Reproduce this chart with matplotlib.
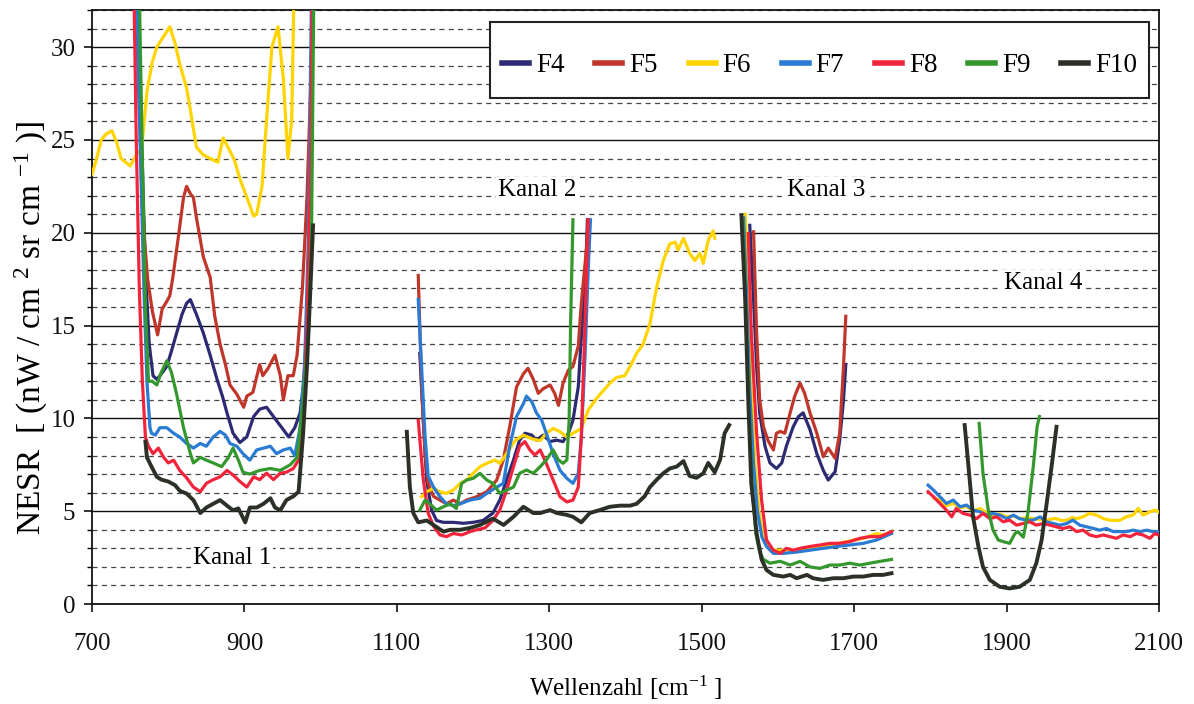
import matplotlib
matplotlib.use("Agg")
import matplotlib.pyplot as plt
from matplotlib.ticker import MultipleLocator
from matplotlib.patches import Rectangle

# ---------------- data ----------------
series_names = ["F4", "F5", "F6", "F7", "F8", "F9", "F10"]
series_colors = ["#2c2a72", "#c0362a", "#ffd400", "#2a7bd4", "#f2243c", "#34982e", "#2b3126"]

x_ticks = [700, 900, 1100, 1300, 1500, 1700, 1900, 2100]
y_ticks = [0, 5, 10, 15, 20, 25, 30]

kanal_labels = ["Kanal 1", "Kanal 2", "Kanal 3", "Kanal 4"]
kanal_x = [884, 1284, 1663, 1948]
kanal_y = [2.5, 22.3, 22.3, 17.3]

# F4
f4_k1_x = [760, 765, 770, 775, 780, 785, 791, 798, 804, 811, 818, 824, 829, 837, 846, 855, 864, 871, 877, 885, 894, 903, 912, 920, 929, 938, 949, 958, 966, 973, 978, 983, 987, 990]
f4_k1_y = [33, 25, 18, 14, 12.3, 12.1, 12.4, 12.8, 13.6, 14.6, 15.6, 16.2, 16.4, 15.6, 14.6, 13.4, 12.1, 11.2, 10.3, 9.2, 8.7, 9.0, 10.1, 10.5, 10.6, 10.1, 9.5, 9.0, 9.5, 10.3, 12, 16, 24, 33]
f4_k2_x = [1130, 1134.6, 1139, 1145.5, 1152, 1161, 1174, 1187, 1200, 1213, 1226, 1235, 1244, 1253, 1261, 1268, 1277, 1283, 1292, 1301, 1309.5, 1318, 1325, 1331, 1338, 1342, 1347, 1350]
f4_k2_y = [13.5, 9.9, 6.68, 5.06, 4.5, 4.4, 4.4, 4.35, 4.4, 4.5, 4.9, 5.6, 6.68, 7.76, 8.83, 9.2, 9.1, 8.83, 9.1, 8.75, 8.83, 8.75, 9.2, 9.9, 11.7, 14.4, 17.1, 20.7]
f4_k3_x = [1563, 1568, 1572, 1576, 1583, 1589.5, 1598, 1605, 1611, 1620, 1627, 1633, 1642, 1651, 1659.5, 1666, 1675, 1681, 1686, 1689]
f4_k3_y = [20.4, 16.4, 12.8, 10.3, 8.5, 7.6, 7.3, 7.6, 8.5, 9.55, 10.1, 10.3, 9.4, 8.1, 7.2, 6.68, 7.13, 8.83, 11.0, 12.9]

# F5
f5_k1_x = [757, 761, 765, 769, 773, 779, 786, 792, 798, 802, 806, 813, 820, 824, 829, 833, 837, 846, 855, 861, 868, 875, 881, 890, 899, 903, 911, 920, 924, 931, 940, 947, 951, 957, 964, 969, 976, 982, 987, 990]
f5_k1_y = [33, 28, 23, 19.5, 17.5, 15.8, 14.5, 15.9, 16.3, 16.6, 17.6, 19.7, 21.9, 22.5, 22.1, 21.9, 20.8, 18.7, 17.6, 15.5, 14.0, 12.9, 11.8, 11.3, 10.6, 11.2, 11.4, 12.9, 12.3, 12.7, 13.4, 12.3, 11.0, 12.3, 12.3, 13.4, 17, 21.9, 28, 33]
f5_k2_x = [1128, 1132.4, 1137, 1141, 1148, 1156.5, 1165, 1174, 1183, 1191.5, 1204.6, 1218, 1231, 1239.6, 1248, 1257, 1266, 1272, 1279, 1285.5, 1292, 1301, 1307, 1312, 1318, 1325, 1331, 1338, 1342, 1349, 1351]
f5_k2_y = [17.7, 11.7, 8.1, 6.5, 5.8, 5.6, 5.4, 5.6, 5.4, 5.6, 5.78, 6.05, 6.68, 7.76, 9.55, 11.7, 12.4, 12.7, 12.1, 11.35, 11.6, 11.8, 11.35, 10.7, 11.9, 12.6, 12.8, 13.9, 16.2, 19.25, 20.7]
f5_k3_x = [1568, 1572, 1576, 1581, 1587, 1594, 1598, 1603, 1609, 1616, 1622, 1629, 1635, 1642, 1651, 1659.5, 1666, 1675, 1681, 1686, 1689]
f5_k3_y = [20.05, 14.6, 11.0, 9.55, 8.8, 8.3, 9.2, 9.3, 9.2, 10.3, 11.2, 11.9, 11.35, 10.3, 9.2, 7.94, 8.4, 7.85, 9.2, 12.8, 15.5]

# F6
f6_k1_x = [700, 706, 712, 718, 726, 732, 738, 744, 750, 758, 765, 772, 779, 785, 791, 796, 802, 809, 815, 824, 829, 837, 846, 855, 865, 872, 881, 887, 894, 905, 912, 916, 923, 929, 936, 944, 951, 957, 962, 965]
f6_k1_y = [23.15, 24.0, 25.0, 25.3, 25.5, 24.9, 24.0, 23.8, 23.6, 24.2, 24.5, 27.6, 29.2, 30.0, 30.4, 30.7, 31.1, 30.2, 29.1, 27.8, 26.6, 24.6, 24.2, 24.0, 23.8, 25.1, 24.4, 23.9, 22.9, 21.7, 20.9, 21.0, 22.5, 26.1, 30.0, 31.1, 28.3, 24.0, 26.1, 33]
f6_k2_x = [1132.4, 1139, 1148, 1156.5, 1165, 1174, 1183, 1191.5, 1200, 1209, 1218, 1228.6, 1235, 1244, 1255, 1266, 1277, 1288, 1296, 1305, 1314, 1323, 1331, 1342, 1351, 1362, 1371, 1379.5, 1388, 1399, 1406, 1414.5, 1423, 1432, 1441, 1449.5, 1458, 1465, 1469, 1476, 1484, 1491, 1497.6, 1502, 1508.5, 1515, 1517]
f6_k2_y = [5.78, 6.05, 6.23, 6.05, 5.96, 6.14, 6.5, 6.68, 7.04, 7.4, 7.58, 7.76, 7.58, 8.1, 8.8, 9.1, 8.9, 8.8, 9.2, 9.46, 9.28, 9.0, 9.2, 9.46, 10.45, 11.08, 11.5, 11.9, 12.2, 12.3, 12.8, 13.5, 14.0, 15.1, 17.1, 18.5, 19.4, 19.5, 19.07, 19.7, 18.9, 18.5, 18.9, 18.35, 19.6, 20.1, 19.7]
f6_k3_x = [1557, 1561, 1565, 1570, 1575, 1581, 1589.5, 1607, 1624.5, 1646, 1668, 1690, 1712, 1729.5, 1738, 1749]
f6_k3_y = [21.0, 16.5, 11.5, 7.5, 5.0, 3.6, 2.9, 2.9, 2.9, 3.0, 3.18, 3.36, 3.54, 3.8, 3.7, 3.9]
f6_k4_x = [1805, 1812.5, 1821, 1830, 1839, 1847.5, 1856, 1865, 1874, 1882, 1891, 1900, 1909, 1917, 1926, 1935, 1944, 1952, 1961, 1965.5, 1972, 1979, 1986, 1992, 2000.5, 2009, 2018, 2027, 2035.5, 2042, 2049, 2057, 2066, 2072.6, 2079, 2088, 2094.5, 2099]
f6_k4_y = [5.7, 5.6, 5.3, 5.42, 5.2, 5.24, 5.0, 5.15, 4.9, 4.79, 4.85, 4.7, 4.75, 4.6, 4.65, 4.6, 4.55, 4.52, 4.6, 4.6, 4.5, 4.52, 4.65, 4.6, 4.7, 4.88, 4.79, 4.6, 4.52, 4.5, 4.52, 4.7, 4.79, 5.15, 4.79, 4.97, 5.06, 4.97]

# F7
f7_k1_x = [758, 763, 768, 772, 776, 778, 783, 789, 798, 807, 815, 824, 833, 842, 850, 859, 868, 875, 881, 890, 898, 907, 916, 925, 934, 942, 951, 960, 966, 973, 979, 984, 988]
f7_k1_y = [33, 25, 17, 12, 9.5, 9.2, 9.1, 9.5, 9.5, 9.2, 9.0, 8.65, 8.4, 8.65, 8.5, 9.0, 9.3, 9.1, 8.65, 8.5, 8.1, 7.75, 8.3, 8.4, 8.5, 8.1, 8.3, 8.4, 8.0, 9.5, 13, 20, 33]
f7_k2_x = [1128, 1132, 1137, 1141, 1148, 1156.5, 1165, 1174, 1183, 1196, 1209, 1218, 1231, 1239.6, 1248, 1257, 1266, 1270, 1277, 1283, 1290, 1296, 1305, 1314, 1323, 1331, 1338, 1342, 1347, 1351, 1354]
f7_k2_y = [16.4, 13.1, 9.0, 6.9, 6.3, 5.78, 5.4, 5.3, 5.4, 5.6, 5.7, 5.96, 6.3, 6.5, 8.5, 10.1, 10.8, 11.2, 10.9, 10.3, 9.9, 9.2, 8.1, 7.2, 6.77, 6.5, 7.04, 9.0, 13.5, 18.0, 20.7]
f7_k3_x = [1555, 1559, 1563, 1568, 1573, 1579, 1585, 1594, 1607, 1624.5, 1642, 1659, 1677, 1694, 1712, 1729.5, 1749]
f7_k3_y = [20.8, 16.5, 11.5, 7.5, 5.0, 3.6, 3.1, 2.73, 2.73, 2.8, 2.9, 3.0, 3.1, 3.18, 3.27, 3.45, 3.8]
f7_k4_x = [1797, 1804, 1812.5, 1821, 1830, 1839, 1847.5, 1856, 1865, 1874, 1882, 1891, 1900, 1909, 1917, 1926, 1935, 1944, 1952, 1961, 1970, 1979, 1987, 1996, 2005, 2014, 2022, 2031, 2040, 2049, 2057, 2066, 2075, 2084, 2092, 2099]
f7_k4_y = [6.4, 6.14, 5.78, 5.42, 5.6, 5.24, 5.33, 5.06, 4.97, 4.79, 4.88, 4.79, 4.6, 4.79, 4.6, 4.52, 4.52, 4.7, 4.43, 4.34, 4.25, 4.34, 4.52, 4.25, 4.16, 4.07, 3.98, 4.07, 3.9, 3.9, 3.9, 3.98, 3.9, 3.98, 3.9, 3.9]

# F8
f8_k1_x = [755, 758, 762, 766, 770, 774, 780, 787, 794, 800, 807, 815, 824, 833, 842, 850, 859, 868, 877, 885, 894, 903, 912, 920, 929, 938, 947, 955, 964, 971, 977, 982, 986, 989]
f8_k1_y = [33, 25, 17, 12, 9.0, 8.5, 8.1, 8.4, 7.9, 7.6, 7.75, 7.2, 6.8, 6.3, 6.05, 6.5, 6.7, 6.85, 7.2, 6.95, 6.6, 6.3, 6.85, 6.7, 7.05, 6.7, 7.05, 7.1, 7.3, 7.75, 10, 15, 22, 33]
f8_k2_x = [1128, 1134.6, 1141, 1148, 1156.5, 1165, 1174, 1185, 1196, 1204.6, 1215.5, 1226, 1235, 1244, 1253, 1261, 1268, 1274.5, 1281, 1288, 1296, 1305, 1314, 1323, 1331, 1338, 1342, 1347, 1351]
f8_k2_y = [9.9, 6.7, 4.9, 4.2, 3.72, 3.63, 3.8, 3.72, 3.9, 4.0, 4.1, 4.5, 5.06, 6.14, 7.4, 8.5, 8.75, 8.3, 8.03, 8.3, 7.58, 6.68, 5.78, 5.5, 5.6, 6.3, 9.0, 15.3, 20.7]
f8_k3_x = [1561, 1565, 1572, 1578.5, 1585, 1594, 1603, 1611, 1620, 1629, 1642, 1655, 1668, 1681, 1694, 1707.5, 1720.7, 1734, 1749]
f8_k3_y = [19.96, 14.6, 9.2, 5.6, 3.45, 2.9, 2.73, 3.0, 2.9, 3.0, 3.1, 3.18, 3.27, 3.27, 3.36, 3.54, 3.63, 3.63, 3.9]
f8_k4_x = [1797, 1804, 1812.5, 1821, 1828, 1834, 1843, 1852, 1860.6, 1869, 1878, 1887, 1895.6, 1904, 1913, 1922, 1930.5, 1939, 1948, 1957, 1965.5, 1974, 1983, 1992, 2000.5, 2009, 2018, 2027, 2035.5, 2044, 2053, 2062, 2070.5, 2079, 2088, 2094.5, 2099]
f8_k4_y = [6.05, 5.78, 5.42, 5.06, 4.7, 5.15, 4.88, 4.79, 4.6, 4.88, 4.6, 4.7, 4.43, 4.52, 4.25, 4.34, 4.43, 4.25, 4.34, 4.25, 4.16, 4.07, 4.16, 3.9, 3.98, 3.72, 3.63, 3.72, 3.63, 3.54, 3.72, 3.63, 3.8, 3.72, 3.54, 3.8, 3.72]

# F9
f9_k1_x = [762, 766, 770, 774, 779, 785, 791, 798, 804, 811, 820, 829, 833, 842, 850, 859, 870, 879, 885, 892, 898, 907, 920, 934, 947, 960, 969, 977, 984, 988, 991]
f9_k1_y = [33, 24, 16, 12.0, 12.0, 11.8, 12.5, 13.1, 12.5, 11.3, 9.5, 8.1, 7.6, 7.9, 7.75, 7.6, 7.4, 7.9, 8.4, 7.75, 7.1, 7.0, 7.2, 7.3, 7.2, 7.5, 7.9, 11, 14.6, 20, 33]
f9_k2_x = [1130, 1137, 1143, 1152, 1161, 1170, 1178, 1185, 1191.5, 1200, 1209, 1218, 1226, 1235, 1244, 1253, 1261, 1270, 1279, 1288, 1296, 1305, 1312, 1318, 1323, 1326, 1328, 1331]
f9_k2_y = [5.06, 5.6, 5.4, 5.06, 5.24, 5.4, 5.15, 6.5, 6.68, 6.77, 7.04, 6.68, 6.5, 5.96, 6.14, 6.3, 7.04, 7.22, 7.04, 7.4, 7.76, 8.3, 7.76, 7.58, 7.76, 9.9, 15.3, 20.7]
f9_k3_x = [1554, 1558, 1562, 1566, 1571, 1576, 1581, 1589.5, 1603, 1616, 1629, 1642, 1655, 1668, 1681, 1694, 1707.5, 1720.7, 1734, 1749]
f9_k3_y = [20.7, 16, 10.5, 6.5, 3.8, 2.8, 2.4, 2.2, 2.3, 2.1, 2.3, 2.0, 1.92, 2.1, 2.1, 2.2, 2.1, 2.2, 2.3, 2.4]
f9_k4_x = [1864, 1869, 1876, 1882, 1889, 1895.6, 1904, 1911, 1915, 1922, 1928, 1935, 1940, 1943]
f9_k4_y = [9.73, 7.04, 5.06, 4.0, 3.45, 3.36, 3.27, 3.8, 3.9, 3.6, 4.9, 7.4, 9.55, 10.1]

# F10
f10_k1_x = [770, 772, 778, 785, 791, 800, 809, 815, 824, 833, 842, 850, 859, 868, 877, 885, 892, 901, 907, 916, 925, 934, 940, 947, 955, 964, 971, 977, 982, 986, 990]
f10_k1_y = [8.75, 7.9, 7.4, 6.85, 6.7, 6.6, 6.4, 6.1, 5.95, 5.6, 4.9, 5.2, 5.4, 5.6, 5.3, 5.05, 5.15, 4.4, 5.2, 5.2, 5.4, 5.7, 5.2, 5.05, 5.6, 5.8, 6.05, 9.2, 12.8, 16.5, 20.4]
f10_k2_x = [1113, 1117, 1121.5, 1128, 1139, 1148, 1161, 1170, 1183, 1196, 1209, 1226, 1240, 1253, 1266, 1279, 1288, 1301, 1310, 1323, 1331, 1342, 1353, 1366, 1379.5, 1393, 1406, 1414.5, 1425, 1432, 1441, 1449.5, 1458, 1467, 1476, 1484, 1493, 1502, 1508.5, 1517, 1524, 1530, 1536]
f10_k2_y = [9.28, 6.3, 4.9, 4.4, 4.5, 4.26, 3.9, 4.0, 4.0, 4.1, 4.26, 4.6, 4.26, 4.7, 5.24, 4.9, 4.9, 5.06, 4.9, 4.8, 4.7, 4.4, 4.9, 5.06, 5.24, 5.3, 5.3, 5.4, 5.8, 6.3, 6.7, 7.04, 7.3, 7.4, 7.7, 6.9, 6.8, 7.04, 7.6, 7.1, 7.76, 9.2, 9.64]
f10_k3_x = [1552, 1557, 1561, 1565, 1572, 1578.5, 1585, 1594, 1607, 1616, 1624.5, 1638, 1646, 1659, 1672.6, 1686, 1699, 1712, 1725, 1738, 1749]
f10_k3_y = [20.95, 16.4, 11.0, 6.5, 3.8, 2.4, 1.83, 1.57, 1.48, 1.57, 1.39, 1.57, 1.39, 1.3, 1.39, 1.39, 1.48, 1.48, 1.57, 1.57, 1.66]
f10_k4_x = [1845, 1850, 1856, 1863, 1869, 1878, 1891, 1904, 1917, 1930.5, 1939, 1946, 1952, 1959, 1965.5]
f10_k4_y = [9.64, 7.4, 4.7, 3.1, 2.0, 1.3, 0.93, 0.84, 0.93, 1.3, 2.2, 3.45, 5.24, 7.4, 9.55]

series_segments = [
    [(f4_k1_x, f4_k1_y), (f4_k2_x, f4_k2_y), (f4_k3_x, f4_k3_y)],
    [(f5_k1_x, f5_k1_y), (f5_k2_x, f5_k2_y), (f5_k3_x, f5_k3_y)],
    [(f6_k1_x, f6_k1_y), (f6_k2_x, f6_k2_y), (f6_k3_x, f6_k3_y), (f6_k4_x, f6_k4_y)],
    [(f7_k1_x, f7_k1_y), (f7_k2_x, f7_k2_y), (f7_k3_x, f7_k3_y), (f7_k4_x, f7_k4_y)],
    [(f8_k1_x, f8_k1_y), (f8_k2_x, f8_k2_y), (f8_k3_x, f8_k3_y), (f8_k4_x, f8_k4_y)],
    [(f9_k1_x, f9_k1_y), (f9_k2_x, f9_k2_y), (f9_k3_x, f9_k3_y), (f9_k4_x, f9_k4_y)],
    [(f10_k1_x, f10_k1_y), (f10_k2_x, f10_k2_y), (f10_k3_x, f10_k3_y), (f10_k4_x, f10_k4_y)],
]

# ---------------- styling ----------------
plt.rcParams["font.family"] = ["Liberation Serif", "DejaVu Serif"]
plt.rcParams["mathtext.fontset"] = "custom"
plt.rcParams["mathtext.rm"] = "Liberation Serif"
plt.rcParams["mathtext.it"] = "Liberation Serif:italic"
plt.rcParams["mathtext.bf"] = "Liberation Serif:bold"

fig = plt.figure(figsize=(11.94, 7.04), dpi=100)
ax = fig.add_axes([0.0771, 0.1420, 0.8936, 0.8438])

ax.set_xlim(700, 2100)
ax.set_ylim(0, 32)
ax.set_xticks(x_ticks)
ax.set_yticks(y_ticks)
ax.yaxis.set_minor_locator(MultipleLocator(1))

ax.grid(which="major", axis="y", color="#111111", linewidth=1.0, linestyle="-", zorder=0)
ax.grid(which="minor", axis="y", color="#444444", linewidth=0.9, linestyle=(0, (4, 3.5)), zorder=0)
ax.set_axisbelow(True)

for s in ax.spines.values():
    s.set_linewidth(1.3)
    s.set_color("#111111")

ax.tick_params(axis="both", which="major", labelsize=18, length=6, width=1.2, direction="out", colors="#111111")
ax.tick_params(axis="y", which="major", pad=6)
ax.tick_params(axis="x", which="major", pad=15)
ax.tick_params(axis="y", which="minor", length=3.5, width=1.0, direction="out")

for name, color, segs in zip(series_names, series_colors, series_segments):
    lw = 2.8 if name == "F10" else 2.3
    for i, (xs, ys) in enumerate(segs):
        ax.plot(xs, ys, color=color, linewidth=lw, label=name if i == 0 else None,
                solid_joinstyle="round", zorder=3)

for txt, kx, ky in zip(kanal_labels, kanal_x, kanal_y):
    ax.text(kx, ky, txt, fontsize=18, ha="center", va="center", zorder=5,
            bbox=dict(facecolor="white", edgecolor="none", pad=1.5))

ax.set_xlabel("Wellenzahl [cm$^{-1}$ ]", fontsize=18, labelpad=13)
ax.set_ylabel("NESR  [ (nW / cm $^{2}$ sr cm $^{-1}$ )]", fontsize=24)
ax.yaxis.set_label_coords(-0.039, 0.465)

# legend box (frame drawn as a patch so its size matches the reference)
leg_box = (0.373, 0.852, 0.618, 0.128)
ax.add_patch(Rectangle((leg_box[0], leg_box[1]), leg_box[2], leg_box[3], transform=ax.transAxes,
                       facecolor="white", edgecolor="#222222", linewidth=1.5, zorder=5))
leg = ax.legend(loc="center", bbox_to_anchor=(leg_box[0], leg_box[1] - 0.01, leg_box[2], leg_box[3]),
                mode="expand", ncol=7, fontsize=19.5, handlelength=1.0, handletextpad=0.25,
                borderaxespad=0, frameon=False, borderpad=0.45)
leg.set_zorder(6)
for line in leg.get_lines():
    line.set_linewidth(4)

fig.savefig("out.png", dpi=100)
